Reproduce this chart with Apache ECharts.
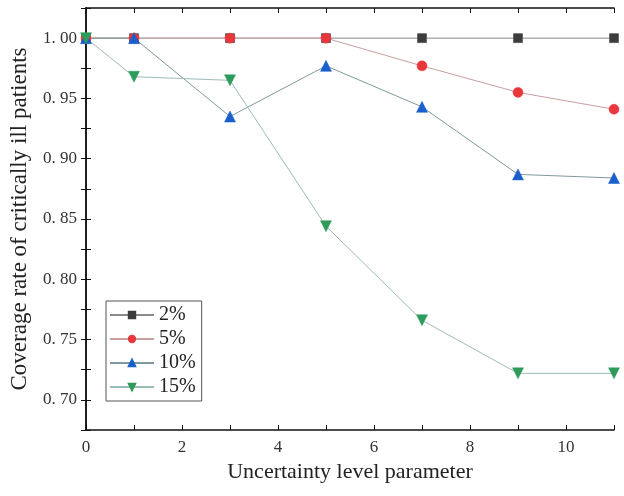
<!DOCTYPE html>
<html>
<head>
<meta charset="utf-8">
<script src="https://cdn.jsdelivr.net/npm/echarts@6/dist/echarts.min.js"></script>
<style>
	html, body { margin: 0; padding: 0; background: #fff; }
	#main { width: 624px; height: 496px; }
</style>
</head>
<body>
<div id="main"></div>
<script>
	// 数据
	var xValues = [ 0, 1, 3, 5, 7, 9, 11 ];
	var seriesNames = [ '2%', '5%', '10%', '15%' ];
	var rate2 = [ 1.000, 1.000, 1.000, 1.000, 1.000, 1.000, 1.000 ];
	var rate5 = [ 1.000, 1.000, 1.000, 1.000, 0.977, 0.955, 0.941 ];
	var rate10 = [ 1.000, 1.000, 0.935, 0.977, 0.943, 0.887, 0.884 ];
	var rate15 = [ 1.000, 0.968, 0.965, 0.844, 0.766, 0.722, 0.722 ];

	var fontName = 'Liberation Serif';

	function toPairs(arr) {
		var out = [];
		for (var i = 0; i < xValues.length; i++) {
			out.push([ xValues[i], arr[i] ]);
		}
		return out;
	}

	function makeSeries(name, data, symbol, size, markColor, lineColor, rotate) {
		return {
			name : name,
			type : 'line',
			data : toPairs(data),
			symbol : symbol,
			symbolSize : size,
			symbolRotate : rotate || 0,
			itemStyle : {
				color : markColor,
				borderColor : markColor,
				borderWidth : 0.5
			},
			lineStyle : {
				color : lineColor,
				width : 1
			},
			emphasis : { disabled : true }
		};
	}

	var mychart = echarts.init(document.getElementById('main'));
	var option = {
		backgroundColor : '#FFFFFF',
		animation : false,
		grid : {
			left : 83,
			right : 10,
			top : 8,
			bottom : 66
		},
		legend : {
			orient : 'vertical',
			left : 106,
			top : 301,
			itemWidth : 44,
			itemHeight : 8,
			itemGap : 4,
			padding : [ 4, 6, 4, 3 ],
			borderColor : '#555',
			borderWidth : 1,
			textStyle : {
				fontFamily : fontName,
				fontSize : 20,
				color : '#222'
			},
			data : seriesNames
		},
		xAxis : [ {
			type : 'value',
			min : 0,
			max : 11,
			interval : 1,
			name : 'Uncertainty level parameter',
			nameLocation : 'middle',
			nameGap : 25,
			nameTextStyle : { fontFamily : fontName, fontSize : 22, color : '#222' },
			axisLine : { lineStyle : { color : '#111', width : 1.5 } },
			axisTick : { inside : true, length : 5, lineStyle : { color : '#111' } },
			axisLabel : {
				fontFamily : fontName,
				fontSize : 17,
				color : '#333',
				margin : 9,
				formatter : function(v) {
					return v % 2 === 0 ? String(v) : '';
				}
			},
			splitLine : { show : false }
		}, {
			type : 'value',
			position : 'top',
			min : 0,
			max : 11,
			interval : 1,
			axisLine : { show : true, lineStyle : { color : '#111', width : 1.5 } },
			axisTick : { inside : true, length : 5, lineStyle : { color : '#111' } },
			axisLabel : { show : false },
			splitLine : { show : false }
		} ],
		yAxis : [ {
			type : 'value',
			min : 0.675,
			max : 1.025,
			interval : 0.025,
			name : 'Coverage rate of critically ill patients',
			nameLocation : 'middle',
			nameGap : 55,
			nameTextStyle : { fontFamily : fontName, fontSize : 23, color : '#222' },
			axisLine : { show : true, lineStyle : { color : '#111', width : 1.5 } },
			axisTick : { inside : true, length : 5, lineStyle : { color : '#111' } },
			axisLabel : {
				fontFamily : fontName,
				fontSize : 17,
				color : '#333',
				margin : 9,
				formatter : function(v) {
					var k = Math.round(v * 1000);
					if (k % 50 !== 0) {
						return '';
					}
					var s = (k / 1000).toFixed(2);
					return s.replace('.', '. ');
				}
			},
			splitLine : { show : false }
		}, {
			type : 'value',
			position : 'right',
			min : 0.675,
			max : 1.025,
			interval : 0.025,
			axisLine : { show : true, lineStyle : { color : '#111', width : 1.5 } },
			axisTick : { inside : true, length : 5, lineStyle : { color : '#111' } },
			axisLabel : { show : false },
			splitLine : { show : false }
		} ],
		series : [
			makeSeries('2%', rate2, 'rect', 9, '#3c3c3c', '#8a8a8a'),
			makeSeries('5%', rate5, 'circle', 10, '#e8383d', '#c9a0a0'),
			makeSeries('10%', rate10, 'triangle', 11, '#1a5fcc', '#7f9a9c'),
			makeSeries('15%', rate15, 'triangle', 11, '#2e9a5c', '#9bbcb8', 180)
		]
	};
	mychart.setOption(option);
</script>
</body>
</html>
